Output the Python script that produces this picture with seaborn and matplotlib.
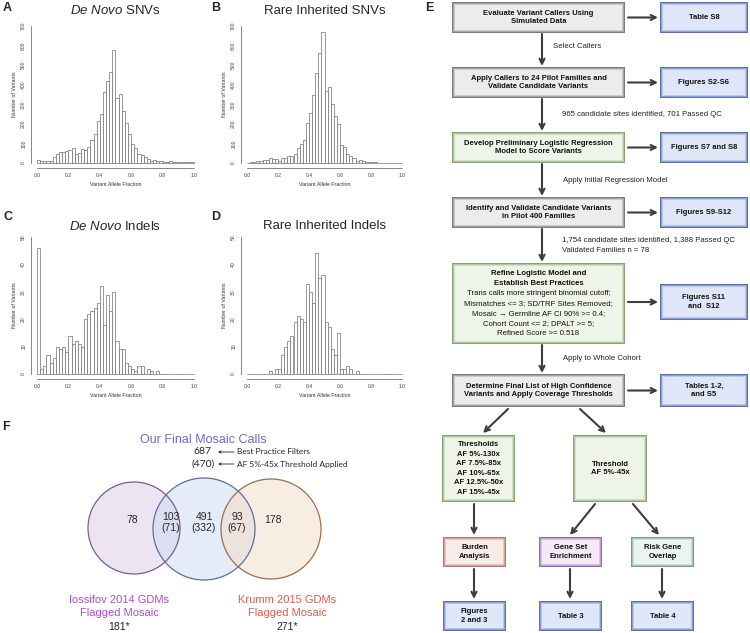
import numpy as np
import pandas as pd
import matplotlib
matplotlib.use("Agg")
import matplotlib.pyplot as plt
import seaborn as sns
from matplotlib.patches import Rectangle, Circle

# ---------------- data ----------------
bin_edges = np.linspace(0, 1, 51)
bin_centers = (bin_edges[:-1] + bin_edges[1:]) / 2

denovo_snv = [15, 8, 10, 8, 12, 30, 45, 55, 57, 62,
              65, 78, 45, 50, 70, 65, 82, 120, 148, 215,
              250, 365, 420, 465, 575, 330, 355, 265, 205, 150,
              95, 75, 45, 42, 30, 20, 12, 15, 8, 8,
              5, 5, 8, 5, 5, 3, 3, 3, 3, 3]
inherited_snv = [0, 3, 7, 10, 12, 15, 15, 25, 22, 20,
                 12, 25, 25, 35, 35, 45, 75, 95, 120, 205,
                 255, 345, 460, 560, 670, 370, 390, 300, 240, 200,
                 90, 80, 45, 35, 25, 10, 15, 10, 5, 3,
                 3, 3, 2, 2, 2, 2, 2, 2, 2, 2]
denovo_indel = [46, 2, 3, 7, 4, 6, 10, 9, 10, 8,
                14, 11, 12, 11, 10, 20, 22, 23, 24, 26,
                32, 18, 29, 23, 30, 12, 9, 9, 4, 3,
                2, 1, 3, 3, 0, 2, 1, 0, 1, 0,
                0, 0, 0, 0, 0, 0, 0, 0, 0, 0]
inherited_indel = [0, 0, 0, 0, 0, 0, 0, 1, 0, 2,
                   2, 7, 10, 12, 14, 19, 21, 20, 19, 33,
                   30, 26, 44, 35, 36, 19, 17, 9, 7, 15,
                   2, 2, 3, 2, 0, 1, 0, 0, 0, 0,
                   0, 0, 0, 0, 0, 0, 0, 0, 0, 0]

x_ticks = [0.0, 0.2, 0.4, 0.6, 0.8, 1.0]
snv_yticks = [0, 100, 200, 300, 400, 500, 600, 700]
indel_yticks = [0, 10, 20, 30, 40, 50]

venn_counts = ["78", "103", "491", "93", "178"]
venn_thr_counts = ["", "(71)", "(332)", "(67)", ""]
venn_total_all = "687"
venn_total_thr = "(470)"

# ---------------- style ----------------
sns.set_style("white")
plt.rcParams["font.family"] = ["Liberation Sans", "DejaVu Sans"]
plt.rcParams["mathtext.fontset"] = "custom"
plt.rcParams["mathtext.rm"] = "Liberation Sans"
plt.rcParams["mathtext.it"] = "Liberation Sans:italic"

W, H = 750, 633
fig = plt.figure(figsize=(7.5, 6.33), dpi=100)


def px_rect(x0, x1, ytop, ybot):
    return [x0 / W, 1 - ybot / H, (x1 - x0) / W, (ybot - ytop) / H]


def hist_panel(x0, x1, y0, ytop, counts, ymax, yticks):
    # x0,x1: pixel of data 0 and 1; y0, ytop: pixel of data 0 and ymax
    dx = x1 - x0
    dy = y0 - ytop
    ax = fig.add_axes(px_rect(x0 - 0.04 * dx, x1 + 0.04 * dx,
                              ytop - 0.04 * dy, y0 + 0.04 * dy))
    df = pd.DataFrame({"vaf": bin_centers, "n": counts})
    sns.histplot(data=df, x="vaf", weights="n", bins=list(bin_edges), ax=ax,
                 color="white", edgecolor="#707070", linewidth=0.5, alpha=1)
    ax.set_xlim(-0.04, 1.04)
    ax.set_ylim(-0.04 * ymax, 1.04 * ymax)
    for s in ["top", "right"]:
        ax.spines[s].set_visible(False)
    for s in ["left", "bottom"]:
        ax.spines[s].set_linewidth(0.5)
        ax.spines[s].set_color("#555555")
    ax.spines["bottom"].set_bounds(0, 1)
    ax.spines["left"].set_bounds(0, ymax)
    ax.set_xticks(x_ticks)
    ax.set_xticklabels([f"{t:.1f}" for t in x_ticks])
    ax.set_yticks(yticks)
    ax.set_yticklabels([str(t) for t in yticks], rotation=90, va="center")
    ax.tick_params(axis="both", labelsize=3.6, length=1.8, width=0.5,
                   color="#555555", labelcolor="#444444", pad=1.5, direction="out")
    ax.set_xlabel("Variant Allele Fraction", fontsize=3.8, color="#333333", labelpad=3)
    ax.set_ylabel("Number of Variants", fontsize=3.8, color="#333333", labelpad=3)
    return ax


hist_panel(37, 194, 163, 26, denovo_snv, 700, snv_yticks)
hist_panel(247, 402, 163, 26, inherited_snv, 700, snv_yticks)
hist_panel(37, 194, 374, 237, denovo_indel, 50, indel_yticks)
hist_panel(247, 402, 374, 237, inherited_indel, 50, indel_yticks)

# ---------------- overlay (titles, Venn, flowchart) ----------------
ov = fig.add_axes([0, 0, 1, 1], facecolor="none")
ov.set_xlim(0, W)
ov.set_ylim(H, 0)
ov.axis("off")


def mtext(x, yc, lines, step, **kw):
    n = len(lines)
    for i, t in enumerate(lines):
        ov.text(x, yc + (i - (n - 1) / 2) * step, t, ha="center", va="center", **kw)


# panel titles
ov.text(115, 11, r"$\mathit{De\ Novo}$ SNVs", fontsize=9.5, ha="center", va="center")
ov.text(325, 11, "Rare Inherited SNVs", fontsize=9.5, ha="center", va="center")
ov.text(115, 226, r"$\mathit{De\ Novo}$ Indels", fontsize=9.5, ha="center", va="center")
ov.text(325, 226, "Rare Inherited Indels", fontsize=9.5, ha="center", va="center")

for lab, (x, y) in {"A": (3, 8), "B": (211, 8), "C": (3, 217), "D": (211, 217),
                    "E": (425, 8), "F": (2, 427)}.items():
    ov.text(x, y, lab, fontsize=9, fontweight="bold", ha="left", va="center")

# ---------------- Venn ----------------
circles = [((134, 528), 46, "#dccbe6", "#7c5c8e"),
           ((204, 529), 51, "#cddbf1", "#5e6f9e"),
           ((271, 529), 50, "#f3dcc7", "#9c6e4d")]
for (c, r, fc, ec) in circles:
    ov.add_patch(Circle(c, r, facecolor=fc, alpha=0.5, edgecolor="none"))
for (c, r, fc, ec) in circles:
    ov.add_patch(Circle(c, r, facecolor="none", edgecolor=ec, linewidth=0.9))

venn_x = [132, 171, 204, 237, 273]
for x, a, b in zip(venn_x, venn_counts, venn_thr_counts):
    if b:
        ov.text(x, 517, a, fontsize=7.5, ha="center", va="center")
        ov.text(x, 528, b, fontsize=7.5, ha="center", va="center")
    else:
        ov.text(x, 520, a, fontsize=7.5, ha="center", va="center")

ov.text(203, 440, "Our Final Mosaic Calls", fontsize=9, color="#6a6ad2",
        ha="center", va="center")
ov.text(203, 452, venn_total_all, fontsize=7.5, ha="center", va="center",
        family=["Lato", "DejaVu Sans"])
ov.text(203, 464, venn_total_thr, fontsize=7.5, ha="center", va="center",
        family=["Lato", "DejaVu Sans"])
for y, t in [(452, "Best Practice Filters"), (464, "AF 5%-45x Threshold Applied")]:
    ov.annotate("", xy=(218, y), xytext=(234, y),
                arrowprops=dict(arrowstyle="->", color="#222222", lw=0.6,
                                mutation_scale=4, shrinkA=0, shrinkB=0))
    ov.text(237, y, t, fontsize=6, ha="left", va="center",
            family=["Lato", "DejaVu Sans"])

mtext(119, 606.5, ["Iossifov 2014 GDMs", "Flagged Mosaic"], 13, fontsize=8, color="#b44ad6")
ov.text(119, 627, "181*", fontsize=7.5, ha="center", va="center")
mtext(287, 606.5, ["Krumm 2015 GDMs", "Flagged Mosaic"], 13, fontsize=8, color="#d8604c")
ov.text(287, 627, "271*", fontsize=7.5, ha="center", va="center")

# ---------------- flowchart ----------------
PAL = {
    "gray": ["#7c7c7c", "#a4a4a4", "#cbcbcb", "#ececec"],
    "blue": ["#5d72a8", "#8d9fd2", "#b9c7ec", "#dfe6f7"],
    "green": ["#89a178", "#b0c8a0", "#cfe1c3", "#eef5e8"],
    "salmon": ["#b07a6a", "#d5a497", "#ecc9be", "#f8ece8"],
    "purple": ["#9a6aa8", "#c29cd0", "#ddc3e7", "#f4e9f7"],
    "teal": ["#7f998e", "#a9c1b7", "#cbddd5", "#ecf4f1"],
}


def fbox(x0, y0, x1, y1, pal, text=None, fs=5.5, step=8.8):
    for d, c in zip([0, 1.1, 2.2, 3.3], PAL[pal]):
        ov.add_patch(Rectangle((x0 + d, y0 + d), (x1 - x0) - 2 * d, (y1 - y0) - 2 * d,
                               facecolor=c, edgecolor="none"))
    if text is not None:
        mtext((x0 + x1) / 2, (y0 + y1) / 2, text.split("\n"), step,
              fontsize=fs, fontweight="bold", color="#111111")


def arrow(x0, y0, x1, y1):
    ov.annotate("", xy=(x1, y1), xytext=(x0, y0),
                arrowprops=dict(arrowstyle="->", color="#3d3d3d", lw=1.5,
                                mutation_scale=9, shrinkA=0, shrinkB=0))


MX0, MX1 = 452, 625
RX0, RX1 = 660, 748
main_rows = [
    (2, 33, "gray", "Evaluate Variant Callers Using\nSimulated Data", "Table S8"),
    (67, 98, "gray", "Apply Callers to 24 Pilot Families and\nValidate Candidate Variants", "Figures S2-S6"),
    (132, 163, "green", "Develop Preliminary Logistic Regression\nModel to Score Variants", "Figures S7 and S8"),
    (197, 228, "gray", "Identify and Validate Candidate Variants\nin Pilot 400 Families", "Figures S9-S12"),
]
for y0, y1, pal, t, rt in main_rows:
    fbox(MX0, y0, MX1, y1, pal, t)
    fbox(RX0, y0, RX1, y1, "blue", rt)
    arrow(628, (y0 + y1) / 2, 658, (y0 + y1) / 2)

# refine box
fbox(MX0, 263, MX1, 344, "green")
refine_lines = [("Refine Logistic Model and", True), ("Establish Best Practices", True),
                ("Trans calls more stringent binomial cutoff;", False),
                ("Mismatches <= 3; SD/TRF Sites Removed;", False),
                ("Mosaic \u2192 Germline AF CI 90% >= 0.4;", False),
                ("Cohort Count <= 2; DPALT >= 5;", False),
                ("Refined Score >= 0.518", False)]
for i, (t, b) in enumerate(refine_lines):
    ov.text((MX0 + MX1) / 2, 273.5 + 10 * i, t, fontsize=5.6, ha="center", va="center",
            fontweight="bold" if b else "normal", color="#111111")
fbox(RX0, 284, RX1, 320, "blue", "Figures S11\nand  S12")
arrow(628, 302, 658, 302)

fbox(MX0, 374, MX1, 407, "gray", "Determine Final List of High Confidence\nVariants and Apply Coverage Thresholds")
fbox(RX0, 374, RX1, 407, "blue", "Tables 1-2,\nand S5")
arrow(628, 390.5, 658, 390.5)

# vertical arrows between main boxes
for ya, yb in [(34, 66), (99, 131), (164, 196), (229, 262), (345, 373)]:
    arrow(542, ya, 542, yb)

notes = [(553, 46, "Select Callers"),
         (562, 115, "965 candidate sites identified, 701 Passed QC"),
         (563, 180, "Apply Initial Regression Model"),
         (562, 240, "1,754 candidate sites identified, 1,388 Passed QC"),
         (562, 251, "Validated Families n = 78"),
         (563, 358, "Apply to Whole Cohort")]
for x, y, t in notes:
    ov.text(x, y, t, fontsize=5.6, ha="left", va="center", color="#222222")

# lower part
fbox(442, 435, 515, 502, "green",
     "Thresholds\nAF 5%-130x\nAF 7.5%-85x\nAF 10%-65x\nAF 12.5%-50x\nAF 15%-45x", step=9.5)
fbox(573, 435, 647, 502, "green", "Threshold\nAF 5%-45x")
arrow(508, 409, 483, 433)
arrow(580, 409, 606, 433)

fbox(443, 537, 506, 567, "salmon", "Burden\nAnalysis")
fbox(539, 537, 602, 567, "purple", "Gene Set\nEnrichment")
fbox(631, 537, 694, 567, "teal", "Risk Gene\nOverlap")
arrow(474, 504, 474, 535)
arrow(595, 504, 570, 535)
arrow(633, 504, 659, 535)

fbox(443, 601, 506, 631, "blue", "Figures\n2 and 3")
fbox(539, 601, 602, 631, "blue", "Table 3")
fbox(631, 601, 694, 631, "blue", "Table 4")
arrow(474, 569, 474, 599)
arrow(570, 569, 570, 599)
arrow(662, 569, 662, 599)

fig.savefig("out.png", dpi=100)
